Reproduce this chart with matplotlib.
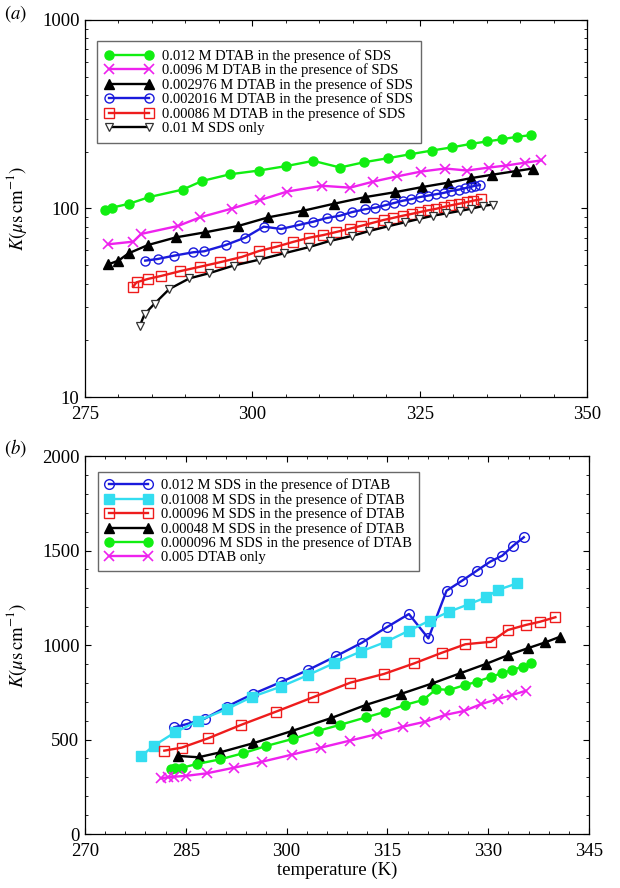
import matplotlib
matplotlib.use("Agg")
import matplotlib.pyplot as plt
from matplotlib.ticker import MultipleLocator, FixedLocator, NullFormatter, FixedFormatter

plt.rcParams['font.family'] = ['Liberation Serif', 'DejaVu Serif']
plt.rcParams['mathtext.fontset'] = 'stix'

# ---------------- panel (a) data ----------------
a_labels = ["0.012 M DTAB in the presence of SDS",
            "0.0096 M DTAB in the presence of SDS",
            "0.002976 M DTAB in the presence of SDS",
            "0.002016 M DTAB in the presence of SDS",
            "0.00086 M DTAB in the presence of SDS",
            "0.01 M SDS only"]

a1_T = [278.0, 279.0, 281.6, 284.6, 289.6, 292.5, 296.7, 301.0, 305.1, 309.1, 313.1,
        316.7, 320.3, 323.6, 326.8, 329.8, 332.6, 335.1, 337.3, 339.5, 341.6]
a1_K = [98, 101, 106, 115, 126, 140, 152, 159, 168, 179, 165,
        176, 185, 194, 203, 211, 220, 227, 233, 240, 245]

a2_T = [278.5, 282.2, 283.4, 288.9, 292.2, 296.9, 301.2, 305.2, 310.4, 314.6, 318.1,
        321.6, 325.2, 328.8, 332.1, 335.4, 337.9, 340.7, 343.2]
a2_K = [64.6, 66.7, 73.3, 80.8, 89.8, 99.8, 111, 123, 132, 129, 139,
        148, 157, 163, 159, 165, 169, 175, 180]

a3_T = [278.5, 280.0, 281.5, 284.4, 288.6, 293.0, 297.9, 302.4, 307.6, 312.2, 316.9,
        321.3, 325.4, 329.2, 332.7, 335.8, 339.4, 341.9]
a3_K = [50.6, 52.9, 57.8, 64.0, 70.3, 74.8, 80.8, 89.8, 97.3, 106, 115,
        122, 130, 137, 145, 151, 158, 163]

a4_T = [284.0, 285.9, 288.3, 291.2, 292.8, 296.0, 298.9, 301.7, 304.3, 306.9, 309.1,
        311.1, 313.1, 314.9, 316.8, 318.4, 319.8, 321.2, 322.5, 323.7, 325.0, 326.2,
        327.4, 328.6, 329.7, 330.9, 331.7, 332.6, 333.2, 334.0]
a4_K = [52.9, 54.0, 56.2, 58.6, 59.3, 64.0, 70.0, 80.1, 77.9, 81.7, 85.1,
        89.0, 91.6, 95.7, 99, 101, 104, 107, 110, 112, 115, 117,
        119, 121, 124, 126, 128, 130, 132, 133]

a5_T = [282.2, 282.7, 284.4, 286.4, 289.2, 292.2, 295.1, 298.4, 301.0, 303.6, 306.1,
        308.5, 310.6, 312.5, 314.6, 316.3, 318.0, 319.6, 321.0, 322.5, 323.9, 325.0,
        326.2, 327.5, 328.6, 329.7, 330.9, 332.0, 333.0, 334.2]
a5_K = [38.5, 40.6, 42.3, 43.9, 46.5, 49.1, 51.8, 55.3, 59.5, 62.7, 66.5,
        70.0, 72.3, 75.0, 78.2, 81.0, 84.0, 86.9, 89.1, 91.6, 93.8, 95.7,
        97.7, 99.7, 102, 104, 106, 108, 110, 112]

a6_T = [283.2, 283.9, 285.4, 287.6, 290.6, 293.5, 297.2, 301.0, 304.7, 308.4, 311.6,
        314.9, 317.5, 320.3, 322.8, 324.9, 327.0, 329.0, 331.0, 332.7, 334.4, 335.9]
a6_K = [23.9, 27.5, 31.3, 37.4, 42.6, 45.3, 49.8, 53.5, 57.8, 62.3, 67.3,
        71.5, 76.0, 80.5, 84.5, 88.0, 91.6, 94.2, 97.0, 99.7, 103, 105]

# ---------------- panel (b) data ----------------
b_labels = ["0.012 M SDS in the presence of DTAB",
            "0.01008 M SDS in the presence of DTAB",
            "0.00096 M SDS in the presence of DTAB",
            "0.00048 M SDS in the presence of DTAB",
            "0.000096 M SDS in the presence of DTAB",
            "0.005 DTAB only"]

b1_T = [283.3, 285.0, 287.8, 291.1, 295.0, 299.1, 303.2, 307.3, 311.2, 314.9, 318.2,
        321.1, 323.8, 326.1, 328.3, 330.3, 332.1, 333.7, 335.3]
b1_K = [565, 580, 610, 674, 741, 803, 868, 940, 1012, 1094, 1164,
        1035, 1287, 1340, 1393, 1441, 1473, 1525, 1570]

b2_T = [278.4, 280.2, 283.4, 286.8, 291.1, 294.9, 299.1, 303.2, 307.0, 311.0, 314.8,
        318.2, 321.3, 324.1, 327.2, 329.7, 331.4, 334.3]
b2_K = [413, 466, 538, 598, 661, 726, 779, 841, 903, 965, 1017,
        1076, 1129, 1175, 1217, 1252, 1291, 1326]

b3_T = [281.8, 284.4, 288.3, 293.2, 298.4, 303.9, 309.5, 314.5, 319.0, 323.1, 326.6,
        330.4, 332.9, 335.6, 337.7, 340.0]
b3_K = [441, 457, 506, 577, 647, 723, 801, 847, 903, 959, 1004,
        1017, 1079, 1106, 1123, 1147]

b4_T = [283.9, 286.9, 290.1, 295.0, 300.8, 306.6, 311.8, 317.0, 321.7, 325.8, 329.6,
        333.0, 335.9, 338.5, 340.7]
b4_K = [413, 406, 432, 480, 545, 613, 683, 741, 797, 850, 899,
        947, 983, 1014, 1044]

b5_T = [282.8, 283.4, 284.5, 286.6, 290.1, 293.5, 297.0, 300.9, 304.6, 308.0, 311.8,
        314.7, 317.6, 320.3, 322.3, 324.2, 326.5, 328.4, 330.4, 332.0, 333.5, 335.2, 336.4]
b5_K = [342, 348, 351, 370, 395, 427, 466, 503, 545, 578, 617,
        647, 683, 709, 767, 762, 788, 806, 832, 850, 868, 885, 903]

b6_T = [281.3, 282.3, 283.3, 285.1, 288.1, 292.2, 296.4, 300.8, 305.1, 309.4, 313.5,
        317.3, 320.6, 323.6, 326.4, 329.0, 331.4, 333.5, 335.6]
b6_K = [295, 300, 303, 308, 321, 351, 383, 420, 457, 494, 529,
        568, 594, 630, 651, 688, 714, 735, 758]

GREEN = '#11ee11'
MAGENTA = '#ee22ee'
BLUE = '#1a1adc'
RED = '#ee1c1c'
CYAN = '#33ddf0'

fig = plt.figure(figsize=(6.2, 8.88), dpi=100)
axA = fig.add_axes([85/620, 1-397/888, (587-85)/620, (397-20)/888])
axB = fig.add_axes([85/620, 1-834/888, (589-85)/620, (834-456)/888])

lw = 1.7
ms = 6.5

axA.plot(a1_T, a1_K, '-', color=GREEN, lw=lw, marker='o', ms=ms, mfc=GREEN, mec=GREEN, label=a_labels[0])
axA.plot(a2_T, a2_K, '-', color=MAGENTA, lw=lw, marker='x', ms=ms+1, mew=1.2, label=a_labels[1])
axA.plot(a3_T, a3_K, '-', color='black', lw=lw, marker='^', ms=ms, mfc='black', label=a_labels[2])
axA.plot(a4_T, a4_K, '-', color=BLUE, lw=lw, marker='o', ms=ms, mfc='none', mec=BLUE, mew=1.0, label=a_labels[3])
axA.plot(a5_T, a5_K, '-', color=RED, lw=lw, marker='s', ms=ms, mfc='none', mec=RED, mew=1.0, label=a_labels[4])
axA.plot(a6_T, a6_K, '-', color='black', lw=lw, marker='v', ms=ms-0.5, mfc='white', mec='#333333', mew=0.9, label=a_labels[5])

axA.set_yscale('log')
axA.set_xlim(275, 350)
axA.set_ylim(10, 1000)
axA.xaxis.set_major_locator(MultipleLocator(25))
axA.xaxis.set_minor_locator(MultipleLocator(5))
axA.yaxis.set_major_locator(FixedLocator([10, 100, 1000]))
axA.yaxis.set_major_formatter(FixedFormatter(['10', '100', '1000']))
axA.yaxis.set_minor_locator(FixedLocator([20, 30, 40, 50, 60, 70, 80, 90, 200, 300, 400, 500, 600, 700, 800, 900]))
axA.yaxis.set_minor_formatter(NullFormatter())

axB.plot(b1_T, b1_K, '-', color=BLUE, lw=lw, marker='o', ms=ms+0.5, mfc='none', mec=BLUE, mew=1.0, label=b_labels[0])
axB.plot(b2_T, b2_K, '-', color=CYAN, lw=lw, marker='s', ms=ms, mfc=CYAN, mec=CYAN, label=b_labels[1])
axB.plot(b3_T, b3_K, '-', color=RED, lw=lw, marker='s', ms=ms+0.5, mfc='none', mec=RED, mew=1.0, label=b_labels[2])
axB.plot(b4_T, b4_K, '-', color='black', lw=lw, marker='^', ms=ms, mfc='black', label=b_labels[3])
axB.plot(b5_T, b5_K, '-', color=GREEN, lw=lw, marker='o', ms=ms, mfc=GREEN, mec=GREEN, label=b_labels[4])
axB.plot(b6_T, b6_K, '-', color=MAGENTA, lw=lw, marker='x', ms=ms+1, mew=1.2, label=b_labels[5])

axB.set_xlim(270, 345)
axB.set_ylim(0, 2000)
axB.xaxis.set_major_locator(MultipleLocator(15))
axB.xaxis.set_minor_locator(MultipleLocator(3))
axB.yaxis.set_major_locator(MultipleLocator(500))
axB.yaxis.set_minor_locator(MultipleLocator(100))

for ax in (axA, axB):
    ax.tick_params(which='both', direction='in', top=True, right=True)
    ax.tick_params(axis='x', which='major', labelsize=13.5, pad=6.5)
    ax.tick_params(axis='y', which='major', labelsize=13.5, pad=4)
    ax.tick_params(which='major', length=4, width=0.8)
    ax.tick_params(which='minor', length=2.5, width=0.6)
    for s in ax.spines.values():
        s.set_linewidth(0.9)
    ax.set_ylabel(r'$K(\mu\mathrm{s\,cm}^{-1})$', fontsize=13.5, labelpad=9)

axB.set_xlabel('temperature (K)', fontsize=13.5, labelpad=1.5)

common = dict(loc='upper left', fontsize=10.5, frameon=True, fancybox=False, numpoints=2,
              handlelength=3.3, handletextpad=0.6, labelspacing=0.05, borderaxespad=0)
legA = axA.legend(bbox_to_anchor=((97-85)/502, (397-41)/377), borderpad=0.55, **common)
legB = axB.legend(bbox_to_anchor=((98-85)/504, (834-472)/378), borderpad=0.45, **common)
for lg in (legA, legB):
    lg.get_frame().set_edgecolor('#444444')
    lg.get_frame().set_linewidth(1.0)

fig.text(4/620, 1-14/888, r'$(a)$', fontsize=13.5, va='center', ha='left')
fig.text(4/620, 1-448/888, r'$(b)$', fontsize=13.5, va='center', ha='left')

fig.savefig('out.png', dpi=100)
